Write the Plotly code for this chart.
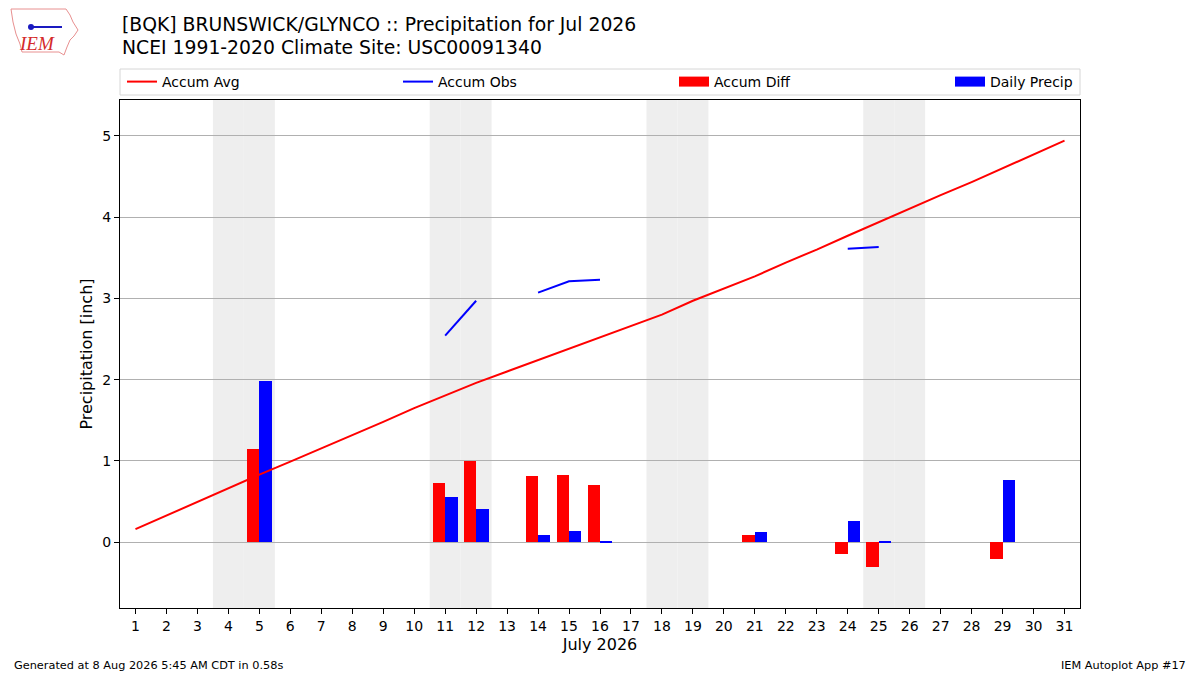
import plotly.graph_objects as go

# July 2026, BQK Brunswick/Glynco
days = list(range(1, 32))
accum_avg = [0.16, 0.33, 0.50, 0.66, 0.83, 0.99, 1.15, 1.32, 1.48, 1.65,
             1.81, 1.96, 2.10, 2.24, 2.38, 2.52, 2.66, 2.80, 2.97, 3.12,
             3.27, 3.44, 3.60, 3.77, 3.94, 4.11, 4.27, 4.43, 4.60, 4.77, 4.94]
N = None
accum_obs = [N, N, N, N, 1.98, N, N, N, N, N,
             2.54, 2.97, N, 3.07, 3.21, 3.23, N, N, N, N,
             3.36, N, N, 3.61, 3.63, N, N, N, 4.39, N, N]
obs_days = [5, 11, 12, 14, 15, 16, 21, 24, 25, 29]
accum_diff = [1.15, 0.73, 1.00, 0.82, 0.83, 0.70, 0.09, -0.15, -0.31, -0.21]
daily_precip = [1.98, 0.56, 0.41, 0.09, 0.14, 0.01, 0.13, 0.26, 0.01, 0.77]
weekend_days = [4, 5, 11, 12, 18, 19, 25, 26]

title_lines = ["[BQK] BRUNSWICK/GLYNCO :: Precipitation for Jul 2026",
               "NCEI 1991-2020 Climate Site: USC00091340"]
footer_left = "Generated at 8 Aug 2026 5:45 AM CDT in 0.58s"
footer_right = "IEM Autoplot App #17"

FONT = "DejaVu Sans"


# the page adds an 8px body margin, so layout is pulled back by 8px;
# these helpers map picture pixels to paper coords of the plot area
def px(x):
    return (x - 120) / 960


def py(y):
    return (608 - y) / 508


fig = go.Figure()
fig.add_trace(go.Scatter(x=days, y=accum_avg, mode="lines", name="Accum Avg",
                         line=dict(color="red", width=2), legendwidth=231))
fig.add_trace(go.Scatter(x=days, y=accum_obs, mode="lines", name="Accum Obs",
                         line=dict(color="blue", width=2), connectgaps=False,
                         legendwidth=231))
fig.add_trace(go.Bar(x=obs_days, y=accum_diff, name="Accum Diff",
                     marker=dict(color="red", line=dict(width=0)),
                     width=0.4, offset=-0.4, showlegend=False, legendgroup="diff"))
fig.add_trace(go.Bar(x=obs_days, y=daily_precip, name="Daily Precip",
                     marker=dict(color="blue", line=dict(width=0)),
                     width=0.4, offset=0, showlegend=False, legendgroup="daily"))
# wide patch-style legend keys for the bars (matplotlib look)
fig.add_trace(go.Scatter(x=[None], y=[None], mode="lines", name="Accum Diff",
                         line=dict(color="red", width=10), legendgroup="diff",
                         legendwidth=231))
fig.add_trace(go.Scatter(x=[None], y=[None], mode="lines", name="Daily Precip",
                         line=dict(color="blue", width=10), legendgroup="daily",
                         legendwidth=86))

# weekend shading
for d in weekend_days:
    fig.add_vrect(x0=d - 0.5, x1=d + 0.5, fillcolor="#eeeeee", line_width=0,
                  layer="below")

# legend frame
fig.add_shape(type="rect", xref="paper", yref="paper", x0=px(120), x1=px(1080),
              y0=py(95), y1=py(69), line=dict(color="#d6d6d6", width=1),
              fillcolor="white")

# logo stand-in: state outline + text
iowa = [(11, 9), (66, 9), (70, 15), (73, 22), (78, 30), (74, 36), (70, 40),
        (67, 47), (64, 55), (59, 52), (22, 52), (20, 44), (16, 34), (13, 22)]
path = "M " + " L ".join(f"{px(x)},{py(y)}" for x, y in iowa) + " Z"
fig.add_shape(type="path", path=path, xref="paper", yref="paper",
              line=dict(color="#e89090", width=1), fillcolor="white")
fig.add_shape(type="line", x0=px(31), x1=px(62), y0=py(27), y1=py(27),
              xref="paper", yref="paper", line=dict(color="#1a1ac0", width=2))
fig.add_shape(type="circle", x0=px(28), x1=px(34), y0=py(24), y1=py(30),
              xref="paper", yref="paper", fillcolor="#1a1ac0", line_width=0)
fig.add_annotation(text="<i>IEM</i>", x=px(37), y=py(44), xref="paper", yref="paper",
                   showarrow=False, xanchor="center", yanchor="middle",
                   font=dict(family="Liberation Serif", size=19, color="#d42a2a"))

for i, line in enumerate(title_lines):
    fig.add_annotation(text=line, x=px(120), y=py(24 + 24 * i), xref="paper", yref="paper",
                       showarrow=False, xanchor="left", yanchor="middle",
                       font=dict(family=FONT, size=18.8, color="black"))

fig.add_annotation(text=footer_left, x=px(12), y=py(665), xref="paper", yref="paper",
                   showarrow=False, xanchor="left", yanchor="middle",
                   font=dict(size=11.3))
fig.add_annotation(text=footer_right, x=px(1188), y=py(665), xref="paper", yref="paper",
                   showarrow=False, xanchor="right", yanchor="middle",
                   font=dict(size=11.3))

fig.update_layout(
    width=1200, height=675,
    margin=dict(l=112, r=128, t=92, b=75, autoexpand=False),
    paper_bgcolor="white", plot_bgcolor="white",
    font=dict(family=FONT, size=14, color="black"),
    barmode="overlay", bargap=0,
    legend=dict(orientation="h", x=px(122), xanchor="left", y=py(82), yanchor="middle",
                borderwidth=0, bgcolor="rgba(0,0,0,0)",
                font=dict(family=FONT, size=14), traceorder="normal"),
    xaxis=dict(range=[0.5, 31.5], tickmode="array", tickvals=days,
               ticktext=[str(d) for d in days], ticks="outside", ticklen=5,
               tickcolor="black", showgrid=False, zeroline=False,
               showline=True, linecolor="black", linewidth=1, mirror=True,
               title=dict(text="July 2026", font=dict(size=16), standoff=6)),
    yaxis=dict(range=[-0.81, 5.44], tickmode="array", tickvals=[0, 1, 2, 3, 4, 5],
               ticks="outside", ticklen=5, tickcolor="black",
               showgrid=True, gridcolor="#b0b0b0", gridwidth=1, zeroline=False,
               showline=True, linecolor="black", linewidth=1, mirror=True,
               title=dict(text="Precipitation [inch]", font=dict(size=16), standoff=5)),
)

fig.write_html("out.html")
